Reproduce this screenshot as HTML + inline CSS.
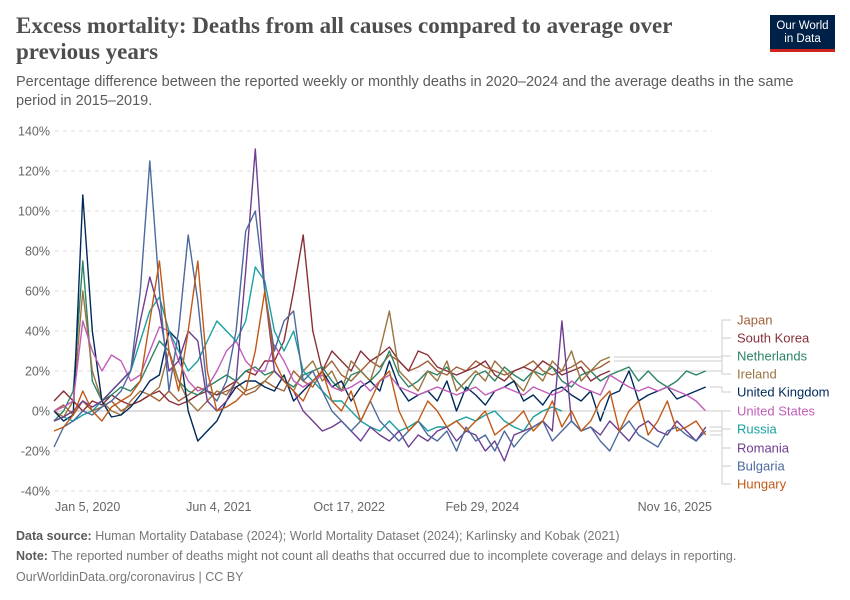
<!DOCTYPE html>
<html><head><meta charset="utf-8"><style>
body{margin:0;width:850px;height:600px;background:#fff;font-family:"Liberation Sans",sans-serif;overflow:hidden;position:relative}
.t{position:absolute;white-space:nowrap}
</style></head><body>
<div class="t" style="left:16px;top:13px;font-family:'Liberation Serif',serif;font-weight:bold;font-size:23px;line-height:26px;color:#4e4e4e">Excess mortality: Deaths from all causes compared to average over<br>previous years</div>
<div class="t" style="left:16px;top:73px;font-size:14.5px;line-height:19px;color:#5b5b5b">Percentage difference between the reported weekly or monthly deaths in 2020–2024 and the average deaths in the same<br>period in 2015–2019.</div>
<div style="position:absolute;left:770px;top:15px;width:65px;height:37px;background:#002147;border-bottom:3px solid #ce261e;box-sizing:border-box;color:#fff;font-size:11.5px;line-height:13px;text-align:center;padding-top:5px">Our World<br>in Data</div>
<svg id="c" width="850" height="600" style="position:absolute;left:0;top:0"></svg>
<div class="t" style="left:16px;top:529px;font-size:12.5px;color:#777"><b style="color:#5b5b5b">Data source:</b> Human Mortality Database (2024); World Mortality Dataset (2024); Karlinsky and Kobak (2021)</div>
<div class="t" style="left:16px;top:549px;font-size:12.5px;color:#777"><b style="color:#5b5b5b">Note:</b> The reported number of deaths might not count all deaths that occurred due to incomplete coverage and delays in reporting.</div>
<div class="t" style="left:16px;top:570px;font-size:12.5px;color:#777">OurWorldinData.org/coronavirus | CC BY</div>
<script>
const yTicks=[-40,-20,0,20,40,60,80,100,120,140];
const xTickLabels=["Jan 5, 2020","Jun 4, 2021","Oct 17, 2022","Feb 29, 2024","Nov 16, 2025"];
const xTickMonths=[0,17.2,30.8,44.7,68.7];
const seriesNames=["Japan","South Korea","Netherlands","Ireland","United Kingdom","United States","Russia","Romania","Bulgaria","Hungary"];
const seriesColors=["#a1603a","#883039","#2c8465","#9a7440","#00295b","#c15cb8","#18a1a0","#6d3e91","#4c6a9c","#c05917"];
const japan=[0,3,-2,5,0,2,5,0,3,5,8,5,10,5,8,12,10,8,10,12,8,10,15,12,10,20,15,12,20,25,18,15,20,25,22,28,25,20,22,25,20,18,22,20,25,22,20,18,20,22,25,20,18,20,22,25,20,22,25];
const southKorea=[5,10,5,0,5,3,8,5,3,5,8,10,5,3,5,8,10,8,12,15,20,18,25,25,35,60,88,40,20,30,25,20,30,25,28,32,25,20,30,28,22,20,18,20,22,25,18,15,20,22,20,25,22,18,20,22,15,18,20];
const netherlands=[-5,0,10,75,15,5,8,12,10,15,25,35,30,15,10,8,12,15,18,15,20,22,18,20,15,12,18,20,22,15,10,18,20,15,20,30,18,12,15,20,18,22,15,10,18,20,15,22,18,15,20,18,22,15,12,18,20,15,18,20,22,15,20,15,12,15,20,18,20];
const ireland=[0,-3,5,60,20,5,0,-2,5,10,8,12,30,15,5,0,5,10,8,15,10,12,15,20,15,10,20,25,15,20,10,25,20,15,30,50,20,15,10,20,15,25,10,15,20,15,25,20,15,10,20,15,25,20,30,15,20,25,27];
const uk=[0,-5,-2,108,40,5,-3,-2,2,8,15,18,40,35,0,-15,-10,-5,5,12,15,15,12,10,18,5,10,15,20,12,15,5,12,15,10,25,12,5,8,10,5,15,0,12,8,3,10,12,15,5,8,3,10,12,8,5,10,-5,8,10,20,5,8,10,12,6,8,10,12];
const us=[0,2,5,45,30,20,28,25,15,18,30,42,40,25,15,10,12,20,30,35,25,20,20,33,25,15,12,15,18,12,10,12,15,10,15,18,12,10,8,10,12,10,8,10,12,8,10,12,10,8,12,10,8,10,15,12,10,8,18,15,12,10,12,10,12,10,8,5,0];
const russia=[-5,-3,-5,-2,0,5,10,15,20,35,50,57,40,30,20,25,35,45,40,35,45,72,65,40,30,40,20,15,10,5,5,0,-5,-8,-10,-5,-10,-8,-5,-10,-8,-8,-5,-3,-5,-2,0,-5,-8,-10,-3,0,2,0];
const romania=[-5,-3,0,5,2,5,10,15,20,45,67,50,20,25,40,35,5,0,5,15,70,131,60,20,15,10,0,-5,-10,-8,-5,-10,-15,-8,-12,-15,-10,-18,-12,-15,-10,-8,-15,-10,-12,-20,-15,-25,-12,-10,-8,-5,-10,45,-5,-10,-8,-12,-5,-10,-15,-8,-5,-10,-12,-5,-10,-15,-8];
const bulgaria=[-18,-8,-5,0,-2,2,5,10,20,60,125,60,10,40,88,55,10,5,15,40,90,100,60,30,45,50,15,20,10,0,-5,-10,-5,5,-5,-10,-15,-10,-5,-12,-15,-10,-20,-8,-15,-12,-20,-10,-18,-12,-8,-5,-15,-10,-5,-10,-8,-15,-20,-10,-5,-12,-15,-18,-10,-8,-12,-15,-10];
const hungary=[-10,-8,-2,10,0,-5,2,5,8,15,45,75,30,10,40,75,20,0,2,5,10,30,60,25,15,10,5,15,20,5,0,10,-5,5,15,20,0,-10,-5,5,0,-8,-5,-10,-5,0,-12,-8,-5,0,-10,-5,5,-8,0,-10,-5,5,10,-10,0,5,-12,-5,5,-10,-8,-5,-12];
const seriesData=[japan,southKorea,netherlands,ireland,uk,us,russia,romania,bulgaria,hungary];
const legendY=[320,338,356,374,392,411,429,448,466,484];

const svg=document.getElementById('c');const NS='http://www.w3.org/2000/svg';
const X0=55,X1=712,Y0=411;
const x=m=>54+m*(115/12);
const y=v=>Y0-v*2;
function el(t,a){const e=document.createElementNS(NS,t);for(const k in a)e.setAttribute(k,a[k]);svg.appendChild(e);return e;}
yTicks.forEach(v=>{
 const g=el('line',{x1:X0,x2:X1,y1:y(v),y2:y(v),stroke:v===0?'#bbb':'#ddd','stroke-dasharray':v===0?'':'4,4','stroke-width':1});
 
 
 const t=el('text',{x:50,y:y(v)+4.5,'text-anchor':'end','font-size':12.5,fill:'#666','font-family':'Liberation Sans'});
 t.textContent=v+'%';
 
 
});
xTickLabels.forEach((l,i)=>{
 const px=x(xTickMonths[i]);
 const anchor=i===0?'start':(i===xTickLabels.length-1?'end':'middle');
 const t=el('text',{x:i===0?X0:(i===xTickLabels.length-1?X1:px),y:511,'text-anchor':anchor,'font-size':12.5,fill:'#666','font-family':'Liberation Sans'});
 t.textContent=l;
 
 
});
seriesData.forEach((d,s)=>{
 const pts=[];d.forEach((v,i)=>{if(v!==null)pts.push(x(i).toFixed(1)+','+y(v).toFixed(1));});
 const p=el('polyline',{points:pts.join(' '),fill:'none',stroke:seriesColors[s],'stroke-width':1.4,'stroke-linejoin':'round'});
 
 
 const last=d.length-1,ly=legendY[s],ey=y(d[last]),ex=x(last)+4;
 const c=el('polyline',{points:`${Math.min(ex,716)},${ey} 722,${ey} 722,${ly} 731,${ly}`,fill:'none',stroke:'#ccc','stroke-width':1});
 
 
 const t=el('text',{x:737,y:ly+4.5,'font-size':13,fill:seriesColors[s],'font-family':'Liberation Sans'});
 t.textContent=seriesNames[s];
 
 
});
</script>
</body></html>
